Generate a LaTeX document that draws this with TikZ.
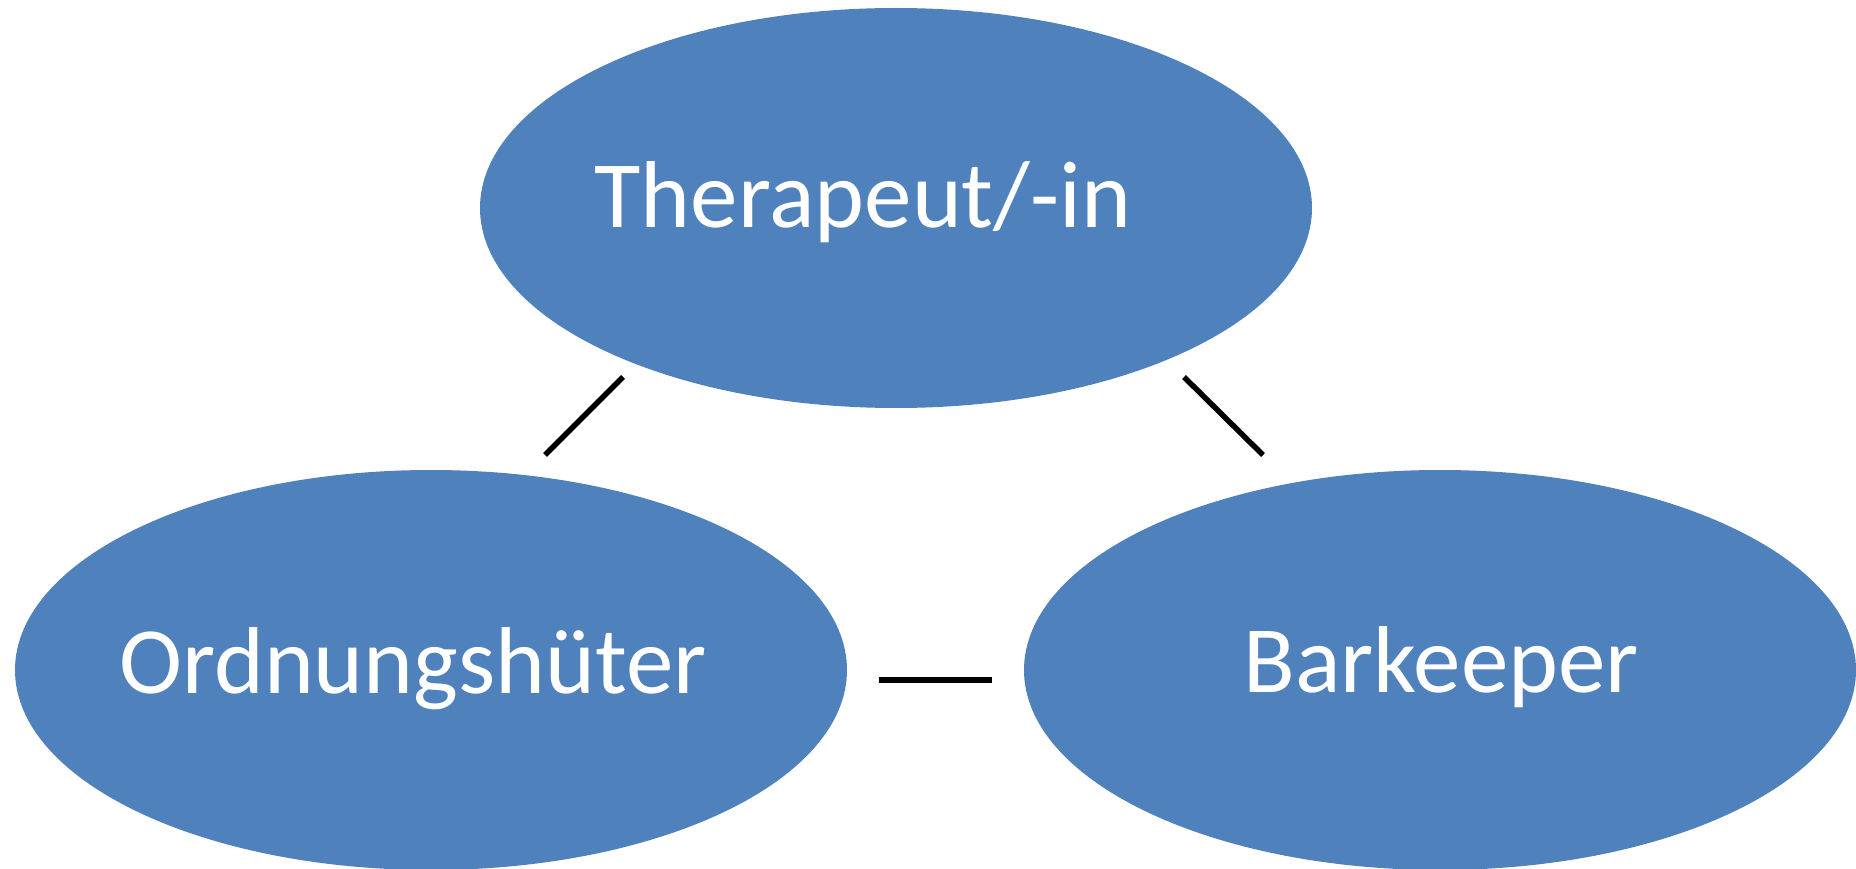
\documentclass[tikz,border=0pt]{standalone}
\usepackage{fontspec}
\setmainfont{Carlito}
\usetikzlibrary{shapes.geometric}
\definecolor{ovalblue}{RGB}{79,129,189}
\tikzset{
  oval/.style={ellipse, fill=ovalblue, draw=none, minimum width=832pt, minimum height=400pt, inner sep=0pt},
  ovaltext/.style={anchor=base, text=white, inner sep=0pt, font=\fontsize{95}{110}\selectfont},
  link/.style={draw=black, line width=5.5pt, line cap=butt}
}
\begin{document}
\begin{tikzpicture}[x=1pt, y=-1pt]
\useasboundingbox (0,0) rectangle (1856,869);
\node[oval] (top) at (896,208) {};
\node[oval] (left) at (431,670) {};
\node[oval] (right) at (1440,670) {};
\node[ovaltext] (toptext) at (863,228) {Therapeut/-in};
\node[ovaltext] (lefttext) at (413,693) {Ordnungshüter};
\node[ovaltext] (righttext) at (1441,692) {Barkeeper};
\coordinate (tl1) at (623,377);
\coordinate (tl2) at (545,455);
\coordinate (tr1) at (1184,377);
\coordinate (tr2) at (1263,455);
\coordinate (h1) at (879,680);
\coordinate (h2) at (992,680);
\draw[link] (tl1) -- (tl2);
\draw[link] (tr1) -- (tr2);
\draw[link] (h1) -- (h2);
\end{tikzpicture}
\end{document}
